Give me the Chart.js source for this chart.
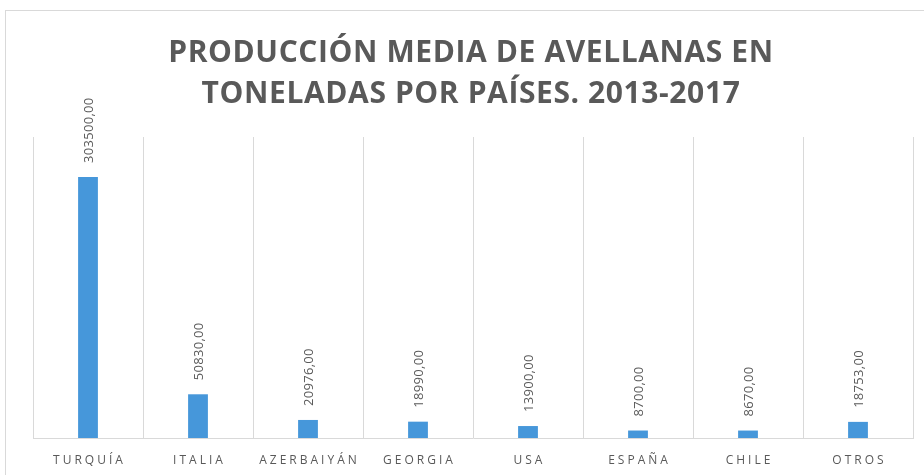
<!DOCTYPE html>
<html>
<head>
<meta charset="utf-8">
<script src="https://cdn.jsdelivr.net/npm/chart.js@4.4.0/dist/chart.umd.min.js"></script>
<style>
  html, body { margin: 0; padding: 0; background: #fff; }
  #frame { position: absolute; left: 5px; top: 10px; width: 940px; height: 480px; border: 1px solid #d9d9d9; box-sizing: border-box; }
  #wrap { position: absolute; left: 0; top: 0; width: 924px; height: 475px; }
</style>
</head>
<body>
<div id="frame"></div>
<div id="wrap"><canvas id="avellanasChart"></canvas></div>
<script>
// datos
const paises = ['TURQUÍA', 'ITALIA', 'AZERBAIYÁN', 'GEORGIA', 'USA', 'ESPAÑA', 'CHILE', 'OTROS'];
const toneladas = [303500, 50830, 20976, 18990, 13900, 8700, 8670, 18753];
const tituloLineas = ['PRODUCCIÓN MEDIA DE AVELLANAS EN', 'TONELADAS POR PAÍSES. 2013-2017'];

const gris = '#595959';

// dibuja título, etiquetas del eje y valores con espaciado de letras
const textosPlugin = {
  id: 'textos',
  afterDraw(chart) {
    const ctx = chart.ctx;
    const x = chart.scales.x;
    ctx.save();
    ctx.fillStyle = gris;

    // título
    ctx.font = 'bold 30px "Open Sans"';
    ctx.letterSpacing = '0.6px';
    ctx.textAlign = 'center';
    ctx.textBaseline = 'alphabetic';
    ctx.fillText(tituloLineas[0], 471, 62);
    ctx.fillText(tituloLineas[1], 471, 103);

    // etiquetas de categoría
    ctx.font = '12px "Open Sans"';
    ctx.letterSpacing = '3px';
    ctx.textBaseline = 'middle';
    paises.forEach((p, i) => {
      ctx.fillText(p, x.getPixelForValue(i) + 1.5, 461);
    });

    // valores encima de cada barra, girados
    ctx.font = '13px "Open Sans"';
    ctx.letterSpacing = '0.3px';
    ctx.textAlign = 'left';
    const meta = chart.getDatasetMeta(0);
    meta.data.forEach((bar, i) => {
      const txt = toneladas[i].toFixed(2).replace('.', ',');
      ctx.save();
      ctx.translate(bar.x + 1, bar.y - 14);
      ctx.rotate(-Math.PI / 2);
      ctx.fillText(txt, 0, 0);
      ctx.restore();
    });
    ctx.restore();
  }
};

document.addEventListener('DOMContentLoaded', () => {
  const ctx = document.getElementById('avellanasChart');
  new Chart(ctx, {
    type: 'bar',
    data: {
      labels: paises,
      datasets: [{
        label: 'Toneladas',
        data: toneladas,
        backgroundColor: '#4697da',
        barPercentage: 0.18,
        categoryPercentage: 1
      }]
    },
    options: {
      responsive: true,
      maintainAspectRatio: false,
      animation: false,
      layout: { padding: { left: 33, right: 11, top: 137, bottom: 37 } },
      plugins: {
        legend: { display: false },
        title: { display: false },
        tooltip: { enabled: false }
      },
      scales: {
        x: {
          offset: true,
          grid: { display: true, offset: true, color: '#d9d9d9', drawTicks: false },
          border: { display: true, color: '#d9d9d9' },
          ticks: { display: false }
        },
        y: {
          display: false,
          min: 0,
          max: 350000
        }
      }
    },
    plugins: [textosPlugin]
  });
});
</script>
</body>
</html>
